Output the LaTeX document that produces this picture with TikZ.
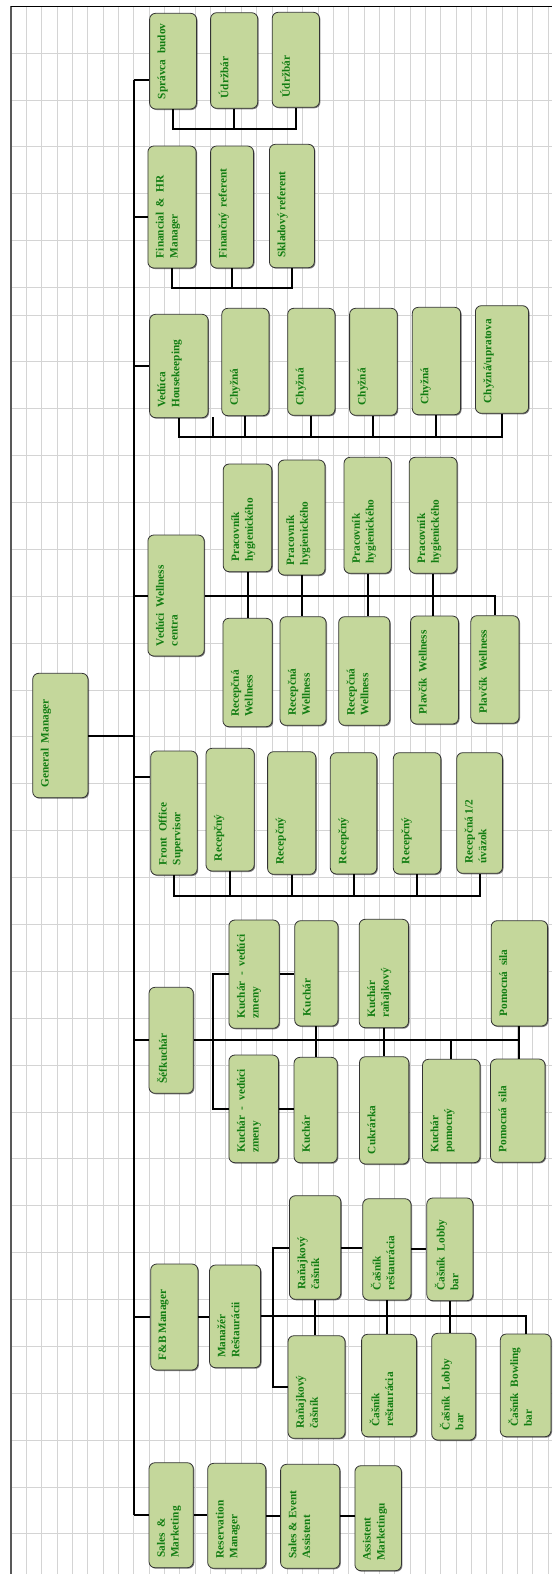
\documentclass[tikz,border=0pt]{standalone}
\usepackage{fontspec}
\setmainfont{Liberation Serif}
\usepackage{graphicx}
\usetikzlibrary{shadows}

\definecolor{boxgreen}{RGB}{196,215,155}
\definecolor{txtgreen}{RGB}{18,125,18}
\definecolor{gridgray}{RGB}{212,212,212}

\tikzset{
	jobbox/.style={draw=black!80, line width=0.8pt, fill=boxgreen, rounded corners=6pt, inner sep=0pt,
		text=txtgreen, font=\bfseries\fontsize{11.3}{13.8}\selectfont,
		drop shadow={shadow xshift=1pt, shadow yshift=-1pt, opacity=0.5, fill=black}},
	link/.style={line width=2pt, black},
	gridline/.style={gridgray, line width=0.9pt}
}

% box from (x1,y1) to (x2,y2), text turned upwards
\newcommand{\jobnode}[6]{%
	\node[jobbox, minimum width={#4-#2}, minimum height={#5-#3}] (#1) at ({(#2+#4)/2},{(#3+#5)/2})
		{\rotatebox{90}{\parbox[c][\dimexpr#4pt-#2pt-16pt\relax][t]{\dimexpr#5pt-#3pt-20pt\relax}{\raggedright #6}}};}

\begin{document}
\begin{tikzpicture}[x=1pt, y=-1pt]
	\useasboundingbox (0,0) rectangle (552,1574);
	% grid
	\foreach \k in {1,...,35}
		\draw[gridline] ({11+15.35*\k},6) -- ({11+15.35*\k},1574);
	\foreach \y in {53.3,100,146.7,193.3,240,287,315}
		\draw[gridline] (11,\y) -- (552,\y);
	\foreach \k in {1,...,26}
		\draw[gridline] (11,{315+46.88*\k}) -- (552,{315+46.88*\k});
	\draw[black!65, line width=1.4pt] (11,1574) -- (11,6);
	\draw[black, line width=1pt] (11,6) -- (552,6);

	% boxes
	\jobnode{gm}{32.7}{673.3}{88}{797.7}{General \ Manager}

	\jobnode{spr}{149.6}{13.3}{196.5}{109}{Správca \ budov}
	\jobnode{udr1}{210.6}{12.7}{257.7}{108.3}{Údržbár}
	\jobnode{udr2}{272.2}{12.3}{319.4}{107.3}{Údržbár}

	\jobnode{fin}{147.9}{146}{196.1}{268}{Financial \ \& \ HR\\Manager}
	\jobnode{finref}{210.6}{146}{253.5}{268}{Finančný \ referent}
	\jobnode{sklref}{269.4}{144.3}{314.4}{267.7}{Skladový referent}

	\jobnode{hk}{149.6}{314.3}{208.1}{417.7}{Vedúca\\Housekeeping}
	\jobnode{chy1}{221.8}{308.3}{269}{415.7}{Chyžná}
	\jobnode{chy2}{287.7}{308.3}{334.9}{415.3}{Chyžná}
	\jobnode{chy3}{349.6}{308.3}{397.2}{415.3}{Chyžná}
	\jobnode{chy4}{412.3}{307.3}{460.6}{414.7}{Chyžná}
	\jobnode{chy5}{475.4}{305.7}{528.5}{413.3}{Chyžná/upratova}

	\jobnode{wel}{147.9}{535}{204.2}{656}{Vedúci \ Wellness\\centra}
	\jobnode{prac1}{223.2}{464}{271.8}{571.7}{Pracovník\\hygienického}
	\jobnode{prac2}{278.2}{460}{325}{575}{Pracovník\\hygienického}
	\jobnode{prac3}{344}{457.3}{391.2}{573.3}{Pracovník\\hygienického}
	\jobnode{prac4}{409.2}{457.3}{457}{573.3}{Pracovník\\hygienického}
	\jobnode{rec1}{222.9}{618.3}{272.2}{726.7}{Recepčná\\Wellness}
	\jobnode{rec2}{280}{616.7}{326}{725.3}{Recepčná\\Wellness}
	\jobnode{rec3}{338.7}{616.7}{389.8}{725.3}{Recepčná\\Wellness}
	\jobnode{plav1}{410.6}{616}{458.5}{724}{Plavčík \ Wellness}
	\jobnode{plav2}{470.8}{615.7}{519}{723.3}{Plavčík \ Wellness}

	\jobnode{fo}{150.7}{751}{197.2}{875}{Front \ Office\\Supervisor}
	\jobnode{recy1}{206}{748.3}{254.2}{871}{Recepčný}
	\jobnode{recy2}{267.6}{751.7}{315.8}{874.3}{Recepčný}
	\jobnode{recy3}{330.3}{752.7}{376.8}{874}{Recepčný}
	\jobnode{recy4}{393.3}{752.7}{440.8}{874}{Recepčný}
	\jobnode{rech}{456.7}{752.7}{502.5}{873.3}{Recepčná 1/2\\úväzok}

	\jobnode{sef}{149}{987.3}{193.3}{1093.3}{Šéfkuchár}
	\jobnode{kvz1}{228.9}{920}{279.2}{1028.3}{Kuchár \ - \ vedúci\\zmeny}
	\jobnode{kuch1}{294.7}{920.7}{338}{1026}{Kuchár}
	\jobnode{kran}{359.2}{919.3}{408.5}{1027.7}{Kuchár\\raňajkový}
	\jobnode{pom1}{491.2}{920.7}{547.5}{1026}{Pomocná \ sila}
	\jobnode{kvz2}{228.9}{1055}{278.5}{1162.7}{Kuchár \ - \ vedúci\\zmeny}
	\jobnode{kuch2}{294}{1057.3}{337.3}{1162.7}{Kuchár}
	\jobnode{cukr}{359.5}{1056.7}{408.8}{1164}{Cukrárka}
	\jobnode{kpom}{422.5}{1059.3}{480}{1162.7}{Kuchár\\pomocný}
	\jobnode{pom2}{490.5}{1059}{545}{1162.3}{Pomocná \ sila}

	\jobnode{fb}{150.7}{1264}{197.9}{1370}{F\&B Manager}
	\jobnode{mres}{209.5}{1265}{260.6}{1367.7}{Manažér\\Reštaurácii}
	\jobnode{rcs1}{289.4}{1195.7}{340.8}{1299.3}{Raňajkový\\čašník}
	\jobnode{crs1}{362.7}{1198.7}{411}{1300}{Čašník\\reštaurácia}
	\jobnode{clb1}{426.8}{1198}{472.9}{1300.7}{Čašník \ Lobby\\bar}
	\jobnode{rcs2}{288}{1335.7}{345}{1438.3}{Raňajkový\\čašník}
	\jobnode{crs2}{361.6}{1334.3}{416.5}{1436.7}{Čašník\\reštaurácia}
	\jobnode{clb2}{431.7}{1333.3}{475.7}{1440}{Čašník \ Lobby\\bar}
	\jobnode{cbow}{500.3}{1334}{551}{1436.7}{Čašník \ Bowling\\bar}

	\jobnode{sal}{149}{1462.7}{193.3}{1567.7}{Sales \ \&\\Marketing}
	\jobnode{resm}{207.7}{1463.3}{265.8}{1568.3}{Reservation\\Manager}
	\jobnode{sea}{280.6}{1464.3}{339.8}{1568.3}{Sales \& Event\\Assistent}
	\jobnode{amk}{354.9}{1465.7}{401.4}{1570.7}{Assistent\\Marketingu}

	% trunk
	\coordinate (ttop) at (134.2,80);
	\coordinate (tbot) at (134.2,1515);
	\coordinate (tfin) at (134.2,217.3);
	\coordinate (tfo) at (134.2,777.3);
	\draw[link] (ttop) -- (tbot);
	\draw[link] (ttop) -- (ttop -| spr.west);
	\draw[link] (tfin) -- (tfin -| fin.west);
	\draw[link] (hk.west -| ttop) -- (hk.west);
	\draw[link] (wel.west -| ttop) -- (wel.west);
	\draw[link] (gm.east) -- (gm.east -| ttop);
	\draw[link] (tfo) -- (tfo -| fo.west);
	\draw[link] (sef.west -| ttop) -- (sef.west);
	\draw[link] (fb.west -| ttop) -- (fb.west);
	\draw[link] (tbot) -- (tbot -| sal.west);

	% building
	\coordinate (budbus) at (234.2,129.3);
	\draw[link] (spr.south) |- (budbus) -| (udr2.south);
	\draw[link] (udr1.south) -- (udr1.south |- budbus);

	% finance
	\coordinate (finbus) at (234.2,288.3);
	\draw[link] (fin.south) |- (finbus) -| (sklref.south);
	\draw[link] (finref.south) -- (finref.south |- finbus);

	% housekeeping
	\coordinate (hkbus) at (246.5,436.7);
	\coordinate (hkstub) at (213,417.3);
	\draw[link] (hk.south) |- (hkbus) -| (chy5.south);
	\foreach \n in {chy1,chy2,chy3,chy4}
		\draw[link] (\n.south) -- (\n.south |- hkbus);
	\draw[link] (hkstub) -- (hkstub |- hkbus);

	% wellness
	\draw[link] (wel.east) -| (plav2.north);
	\draw[link] (prac1.south) -- (prac1.south |- rec1.north);
	\draw[link] (prac2.south) -- (prac2.south |- rec2.north);
	\draw[link] (prac3.south) -- (prac3.south |- rec3.north);
	\draw[link] (prac4.south) -- (prac4.south |- plav1.north);

	% front office
	\coordinate (fobus) at (230,895.7);
	\draw[link] (fo.south) |- (fobus) -| (rech.south);
	\foreach \n in {recy1,recy2,recy3,recy4}
		\draw[link] (\n.south) -- (\n.south |- fobus);

	% kitchen
	\coordinate (kspine) at (213,1041);
	\draw[link] (sef.east) -| (pom1.south);
	\draw[link] (pom1.south) -- (pom1.south |- pom2.north);
	\draw[link] (kuch1.south) -- (kuch1.south |- kuch2.north);
	\draw[link] (kran.south) -- (kran.south |- cukr.north);
	\draw[link] (kpom.north) -- (kpom.north |- sef.east);
	\draw[link] (kvz1.west) -| (kspine) |- (kvz2.west);
	\draw[link] (kvz1.east) -- (kvz1.east -| kuch1.west);
	\draw[link] (kvz2.east) -- (kvz2.east -| kuch2.west);

	% f&b
	\coordinate (fbspine) at (272.9,1316.7);
	\draw[link] (fb.east) -- (fb.east -| mres.west);
	\draw[link] (mres.east) -| (cbow.north);
	\draw[link] (rcs1.west) -| (fbspine) |- (rcs2.west);
	\draw[link] (rcs1.east) -- (rcs1.east -| crs1.west);
	\draw[link] (crs1.east) -- (crs1.east -| clb1.west);
	\draw[link] (rcs1.south) -- (rcs1.south |- rcs2.north);
	\draw[link] (crs1.south) -- (crs1.south |- crs2.north);
	\draw[link] (clb1.south) -- (clb1.south |- clb2.north);

	% sales
	\draw[link] (sal.east) -- (sal.east -| resm.west);
	\draw[link] (resm.east) -- (resm.east -| sea.west);
	\draw[link] (sea.east) -- (sea.east -| amk.west);
\end{tikzpicture}
\end{document}
